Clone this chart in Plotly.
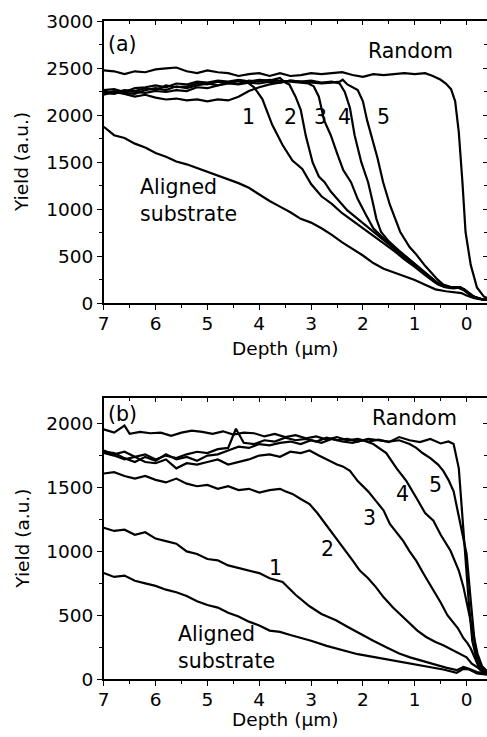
import plotly.graph_objects as go

# ---------------- Panel (a) data ----------------
a_random_d = [7.0, 6.8, 6.6, 6.4, 6.2, 6.0, 5.8, 5.6, 5.4, 5.2, 5.0, 4.8, 4.6, 4.4, 4.2, 4.0, 3.8, 3.6, 3.4, 3.2, 3.0,
              2.8, 2.6, 2.4, 2.2, 2.0, 1.8, 1.6, 1.4, 1.2, 1.0, 0.8, 0.65, 0.5, 0.4, 0.3, 0.22, 0.15, 0.08, 0.02,
              -0.08, -0.2, -0.33, -0.47]
a_random_y = [2480, 2470, 2440, 2470, 2460, 2490, 2500, 2510, 2470, 2450, 2480, 2460, 2450, 2420, 2440, 2450, 2420,
              2450, 2420, 2430, 2450, 2440, 2450, 2460, 2430, 2410, 2440, 2430, 2440, 2450, 2440, 2450, 2420, 2380,
              2340, 2280, 2150, 1820, 1290, 760, 410, 170, 75, 40]

a_c1_d = [7.0, 6.8, 6.6, 6.4, 6.2, 6.0, 5.8, 5.6, 5.4, 5.2, 5.0, 4.8, 4.6, 4.4, 4.27, 4.1, 3.94, 3.75, 3.55, 3.36,
          3.17, 3.0, 2.8, 2.6, 2.4, 2.2, 2.0, 1.8, 1.6, 1.4, 1.2, 1.0, 0.8, 0.6, 0.45, 0.3, 0.15, 0.05, -0.05,
          -0.15, -0.3, -0.47]
a_c1_y = [2270, 2280, 2250, 2290, 2300, 2320, 2300, 2340, 2330, 2360, 2350, 2370, 2360, 2380, 2370, 2300, 2175,
          1900, 1685, 1520, 1430, 1270, 1140, 1060, 960, 880, 800, 720, 640, 560, 470, 390, 300, 220, 180, 170,
          165, 140, 100, 70, 45, 35]

a_c2_d = [7.0, 6.8, 6.6, 6.4, 6.2, 6.0, 5.8, 5.6, 5.4, 5.2, 5.0, 4.8, 4.6, 4.4, 4.2, 4.0, 3.8, 3.6, 3.5, 3.42, 3.3,
          3.2, 3.1, 2.97, 2.85, 2.74, 2.62, 2.45, 2.3, 2.1, 1.9, 1.7, 1.5, 1.3, 1.1, 0.9, 0.7, 0.55, 0.4, 0.25,
          0.12, 0.0, -0.1, -0.25, -0.47]
a_c2_y = [2250, 2240, 2270, 2260, 2290, 2270, 2320, 2300, 2310, 2340, 2330, 2360, 2350, 2370, 2360, 2380, 2370,
          2400, 2350, 2330, 2200, 2060, 1780, 1500, 1350, 1290, 1190, 1080, 990, 900, 810, 720, 630, 540, 450,
          360, 270, 200, 170, 160, 170, 120, 80, 50, 35]

a_c3_d = [7.0, 6.8, 6.6, 6.4, 6.2, 6.0, 5.8, 5.6, 5.4, 5.2, 5.0, 4.8, 4.6, 4.4, 4.2, 4.0, 3.8, 3.6, 3.4, 3.2, 3.05,
          2.95, 2.85, 2.75, 2.62, 2.5, 2.38, 2.23, 2.1, 1.94, 1.8, 1.6, 1.4, 1.2, 1.0, 0.8, 0.6, 0.45, 0.3, 0.15,
          0.05, -0.05, -0.15, -0.3, -0.47]
a_c3_y = [2230, 2260, 2240, 2230, 2270, 2290, 2270, 2310, 2290, 2320, 2340, 2320, 2350, 2340, 2370, 2360, 2380,
          2370, 2360, 2350, 2340, 2310, 2200, 1950, 1790, 1600, 1420, 1290, 1110, 940, 800, 690, 600, 500, 420,
          330, 235, 190, 165, 170, 150, 100, 65, 45, 35]

a_c4_d = [7.0, 6.8, 6.6, 6.4, 6.2, 6.0, 5.8, 5.6, 5.4, 5.2, 5.0, 4.8, 4.6, 4.4, 4.2, 4.0, 3.8, 3.6, 3.4, 3.2, 3.0,
          2.8, 2.6, 2.45, 2.35, 2.25, 2.16, 2.03, 1.9, 1.82, 1.74, 1.65, 1.5, 1.3, 1.1, 0.9, 0.7, 0.55, 0.4, 0.25,
          0.12, 0.0, -0.1, -0.2, -0.32, -0.47]
a_c4_y = [2220, 2250, 2230, 2200, 2220, 2190, 2170, 2180, 2160, 2170, 2150, 2170, 2160, 2200, 2260, 2300, 2330,
          2350, 2370, 2360, 2370, 2350, 2360, 2340, 2250, 2080, 1790, 1500, 1290, 1100, 900, 760, 660, 560, 470,
          380, 290, 215, 180, 170, 175, 130, 85, 60, 42, 35]

a_c5_d = [7.0, 6.8, 6.6, 6.4, 6.2, 6.0, 5.8, 5.6, 5.4, 5.2, 5.0, 4.8, 4.6, 4.4, 4.2, 4.0, 3.8, 3.6, 3.4, 3.2, 3.0,
          2.8, 2.6, 2.45, 2.39, 2.3, 2.1, 2.0, 1.92, 1.84, 1.72, 1.61, 1.48, 1.28, 1.1, 0.97, 0.8, 0.58, 0.45,
          0.3, 0.15, 0.05, -0.05, -0.15, -0.3, -0.47]
a_c5_y = [2240, 2230, 2260, 2250, 2240, 2260, 2250, 2270, 2260, 2300, 2290, 2320, 2340, 2330, 2350, 2340, 2360,
          2350, 2370, 2360, 2350, 2340, 2350, 2360, 2380, 2330, 2270, 2150, 1950, 1790, 1550, 1290, 1050, 760,
          600, 520, 400, 265, 200, 175, 175, 155, 110, 70, 45, 35]

a_aligned_d = [7.0, 6.8, 6.6, 6.4, 6.2, 6.0, 5.8, 5.6, 5.4, 5.2, 5.0, 4.8, 4.6, 4.4, 4.2, 4.0, 3.8, 3.6, 3.4, 3.2,
               3.0, 2.8, 2.6, 2.4, 2.2, 2.0, 1.8, 1.6, 1.4, 1.2, 1.0, 0.8, 0.6, 0.4, 0.2, 0.1, 0.0, -0.15, -0.3,
               -0.47]
a_aligned_y = [1880, 1790, 1760, 1700, 1660, 1600, 1560, 1510, 1480, 1440, 1400, 1360, 1320, 1280, 1230, 1160,
               1090, 1030, 970, 900, 860, 800, 730, 650, 580, 510, 430, 370, 330, 290, 250, 200, 150, 130, 115,
               110, 85, 55, 40, 35]

# ---------------- Panel (b) data ----------------
b_random_d = [7.0, 6.8, 6.6, 6.5, 6.3, 6.1, 5.9, 5.7, 5.5, 5.3, 5.1, 4.9, 4.7, 4.5, 4.3, 4.1, 3.9, 3.7, 3.5, 3.3,
              3.1, 2.9, 2.7, 2.5, 2.3, 2.1, 1.9, 1.7, 1.5, 1.3, 1.1, 0.9, 0.7, 0.5, 0.35, 0.25, 0.15, 0.06, -0.04,
              -0.11, -0.21, -0.3, -0.47]
b_random_y = [1955, 1930, 1985, 1920, 1935, 1925, 1930, 1905, 1930, 1945, 1935, 1920, 1940, 1915, 1930, 1925, 1900,
              1920, 1895, 1910, 1885, 1900, 1875, 1895, 1870, 1880, 1860, 1875, 1855, 1895, 1870, 1855, 1880, 1845,
              1860, 1840, 1650, 1135, 615, 300, 125, 70, 45]

b_c1_d = [7.0, 6.8, 6.6, 6.4, 6.2, 6.0, 5.8, 5.6, 5.4, 5.2, 5.0, 4.8, 4.6, 4.4, 4.2, 4.0, 3.8, 3.55, 3.3, 3.03, 2.8,
          2.52, 2.3, 2.06, 1.8, 1.55, 1.3, 1.09, 0.8, 0.58, 0.4, 0.19, 0.06, -0.05, -0.2, -0.47]
b_c1_y = [1185, 1160, 1170, 1130, 1150, 1100, 1080, 1060, 1000, 980, 940, 930, 890, 870, 850, 830, 790, 760, 660,
          570, 510, 460, 410, 355, 300, 250, 200, 170, 135, 110, 90, 70, 95, 80, 55, 40]

b_c2_d = [7.0, 6.8, 6.6, 6.4, 6.2, 6.0, 5.8, 5.6, 5.4, 5.2, 5.0, 4.8, 4.6, 4.4, 4.2, 4.0, 3.8, 3.6, 3.5, 3.36, 3.2,
          3.03, 2.88, 2.72, 2.55, 2.39, 2.2, 2.06, 1.9, 1.75, 1.6, 1.42, 1.25, 1.09, 0.95, 0.78, 0.6, 0.45, 0.3,
          0.12, 0.0, -0.1, -0.2, -0.3, -0.47]
b_c2_y = [1610, 1620, 1590, 1570, 1590, 1560, 1540, 1570, 1530, 1510, 1520, 1490, 1510, 1480, 1490, 1460, 1480,
          1490, 1470, 1450, 1410, 1370, 1300, 1215, 1120, 1030, 930, 850, 790, 720, 640, 560, 495, 435, 380, 330,
          290, 265, 235, 200, 170, 120, 95, 60, 40]

b_c3_d = [7.0, 6.8, 6.6, 6.4, 6.2, 6.0, 5.8, 5.6, 5.4, 5.2, 5.0, 4.8, 4.6, 4.4, 4.2, 4.0, 3.8, 3.6, 3.4, 3.2, 3.03,
          2.85, 2.64, 2.5, 2.39, 2.25, 2.1, 1.9, 1.75, 1.6, 1.48, 1.35, 1.22, 1.1, 0.97, 0.83, 0.7, 0.5, 0.37,
          0.17, 0.06, -0.02, -0.08, -0.15, -0.22, -0.3, -0.47]
b_c3_y = [1770, 1750, 1720, 1740, 1700, 1690, 1720, 1650, 1690, 1680, 1700, 1720, 1680, 1700, 1720, 1750, 1760,
          1740, 1780, 1770, 1790, 1750, 1705, 1680, 1665, 1630, 1550, 1470, 1395, 1320, 1215, 1150, 1080, 1000,
          925, 825, 740, 600, 500, 400, 320, 280, 240, 170, 110, 70, 45]

b_c4_d = [7.0, 6.8, 6.6, 6.4, 6.2, 6.0, 5.8, 5.6, 5.4, 5.2, 5.0, 4.8, 4.6, 4.4, 4.2, 4.0, 3.8, 3.6, 3.4, 3.2, 3.0,
          2.8, 2.6, 2.4, 2.2, 2.0, 1.8, 1.65, 1.55, 1.35, 1.16, 0.97, 0.8, 0.64, 0.5, 0.31, 0.15, 0.06, -0.02,
          -0.08, -0.15, -0.21, -0.3, -0.4, -0.47]
b_c4_y = [1780, 1770, 1730, 1700, 1740, 1710, 1760, 1720, 1740, 1710, 1750, 1760, 1790, 1820, 1810, 1840, 1830,
          1850, 1860, 1840, 1870, 1850, 1880, 1860, 1850, 1870, 1840, 1800, 1770, 1650, 1550, 1420, 1300, 1240,
          1130, 1005, 850, 720, 560, 450, 300, 200, 100, 60, 45]

b_c5_d = [7.0, 6.8, 6.6, 6.4, 6.2, 6.0, 5.8, 5.6, 5.4, 5.2, 5.0, 4.8, 4.6, 4.45, 4.3, 4.1, 3.9, 3.7, 3.5, 3.3, 3.1,
          2.9, 2.7, 2.5, 2.3, 2.1, 1.9, 1.7, 1.5, 1.3, 1.1, 0.97, 0.85, 0.7, 0.55, 0.45, 0.35, 0.25, 0.12, 0.0,
          -0.08, -0.17, -0.27, -0.35, -0.47]
b_c5_y = [1790, 1760, 1780, 1740, 1760, 1720, 1750, 1730, 1760, 1780, 1770, 1800, 1810, 1960, 1850, 1840, 1870,
          1860, 1890, 1870, 1880, 1860, 1890, 1870, 1880, 1860, 1880, 1870, 1860, 1870, 1840, 1810, 1770, 1730,
          1680, 1630, 1560, 1470, 1215, 980, 615, 225, 100, 60, 45]

b_aligned_d = [7.0, 6.8, 6.6, 6.4, 6.2, 6.0, 5.8, 5.6, 5.4, 5.2, 5.0, 4.8, 4.6, 4.4, 4.2, 4.0, 3.8, 3.6, 3.4, 3.17,
               3.0, 2.7, 2.39, 2.1, 1.75, 1.4, 1.09, 0.8, 0.45, 0.19, 0.06, -0.05, -0.2, -0.47]
b_aligned_y = [830, 800, 810, 770, 750, 730, 700, 680, 650, 610, 580, 560, 520, 490, 450, 420, 380, 370, 345, 320,
               300, 260, 225, 195, 170, 145, 125, 100, 75, 50, 80, 75, 45, 30]

depth_ticks = [0, 1, 2, 3, 4, 5, 6, 7]
a_yticks = [0, 500, 1000, 1500, 2000, 2500, 3000]
b_yticks = [0, 500, 1000, 1500, 2000]

# ---------------- Figure ----------------
W, H = 487, 737
FONT = "DejaVu Sans"
# observed mapping of figure pixels into the photograph: photo = S * fig + O
SX, OX = 0.98, 6.0
SY, OY = 0.975, 8.5

def fx(p):  # target photo column -> figure pixel
    return (p - OX) / SX

def fy(p):  # target photo row -> figure pixel
    return (p - OY) / SY

LEFT = fx(103)
ZERO = fx(463)
PX_PER_UNIT = (ZERO - LEFT) / 7.0
X_RANGE = [7, 7 - (W - LEFT) / PX_PER_UNIT]
LW = 2.2

fig = go.Figure()

panel_a = [(a_random_d, a_random_y), (a_c1_d, a_c1_y), (a_c2_d, a_c2_y), (a_c3_d, a_c3_y),
           (a_c4_d, a_c4_y), (a_c5_d, a_c5_y), (a_aligned_d, a_aligned_y)]
panel_b = [(b_random_d, b_random_y), (b_c1_d, b_c1_y), (b_c2_d, b_c2_y), (b_c3_d, b_c3_y),
           (b_c4_d, b_c4_y), (b_c5_d, b_c5_y), (b_aligned_d, b_aligned_y)]

for d, y in panel_a:
    fig.add_trace(go.Scatter(x=d, y=y, mode="lines", line=dict(color="black", width=LW),
                             xaxis="x", yaxis="y", showlegend=False, hoverinfo="skip"))
for d, y in panel_b:
    fig.add_trace(go.Scatter(x=d, y=y, mode="lines", line=dict(color="black", width=LW),
                             xaxis="x3", yaxis="y3", showlegend=False, hoverinfo="skip"))
fig.add_trace(go.Scatter(x=[None], y=[None], xaxis="x2", yaxis="y2", showlegend=False, hoverinfo="skip"))
fig.add_trace(go.Scatter(x=[None], y=[None], xaxis="x4", yaxis="y4", showlegend=False, hoverinfo="skip"))

def ppx(p):
    return fx(p) / W

def ppy(p):
    return 1 - fy(p) / H

xdom = [LEFT / W, 1.0]
ydom_a = [ppy(302), ppy(19)]
ydom_b = [ppy(679), ppy(397)]

tickfont = dict(family=FONT, size=18.5, color="black")

def main_x(anchor):
    return dict(domain=xdom, anchor=anchor, range=X_RANGE, tickmode="array", tickvals=depth_ticks,
                ticks="outside", ticklen=5, tickwidth=1.2, tickcolor="black", ticklabelstandoff=-2,
                minor=dict(ticks="outside", dtick=0.5, ticklen=3, tickwidth=1.2, tickcolor="black"),
                showline=True, linecolor="black", linewidth=1.5, mirror=True,
                showgrid=False, zeroline=False, tickfont=tickfont, fixedrange=True)

def top_x(over, anchor):
    return dict(overlaying=over, anchor=anchor, side="top", range=X_RANGE, tickmode="array",
                tickvals=depth_ticks, ticks="inside", ticklen=4, tickwidth=1.2, tickcolor="black",
                minor=dict(ticks="inside", dtick=0.5, ticklen=3, tickwidth=1.2, tickcolor="black"),
                showticklabels=False, showline=False, showgrid=False, zeroline=False)

def main_y(dom, anchor, rng, vals):
    return dict(domain=dom, anchor=anchor, range=rng, tickmode="array", tickvals=vals,
                ticks="outside", ticklen=5, tickwidth=1.2, tickcolor="black",
                minor=dict(ticks="outside", dtick=250, ticklen=3, tickwidth=1.2, tickcolor="black"),
                showline=True, linecolor="black", linewidth=1.5, mirror=False,
                showgrid=False, zeroline=False, tickfont=tickfont, fixedrange=True)

def right_y(over, anchor, rng, vals):
    return dict(overlaying=over, anchor=anchor, side="right", range=rng, tickmode="array",
                tickvals=vals, ticks="inside", ticklen=4, tickwidth=1.2, tickcolor="black",
                minor=dict(ticks="inside", dtick=250, ticklen=3, tickwidth=1.2, tickcolor="black"),
                showticklabels=False, showline=False, showgrid=False, zeroline=False)

fig.update_layout(
    width=W, height=H,
    margin=dict(l=0, r=0, t=0, b=0),
    paper_bgcolor="white", plot_bgcolor="white",
    xaxis=main_x("y"),
    xaxis2=top_x("x", "y"),
    yaxis=main_y(ydom_a, "x", [0, 3000], a_yticks),
    yaxis2=right_y("y", "x", [0, 3000], a_yticks),
    xaxis3=main_x("y3"),
    xaxis4=top_x("x3", "y3"),
    yaxis3=main_y(ydom_b, "x3", [0, 2200], b_yticks),
    yaxis4=right_y("y3", "x3", [0, 2200], b_yticks),
    font=dict(family=FONT, color="black"),
)

lab = dict(family=FONT, size=20.5, color="black")
annots = [
    dict(x=6.63, y=2756, xref="x", yref="y", text="(a)"),
    dict(x=1.08, y=2682, xref="x", yref="y", text="Random"),
    dict(x=4.2, y=1982, xref="x", yref="y", text="1"),
    dict(x=3.40, y=1982, xref="x", yref="y", text="2"),
    dict(x=2.82, y=1982, xref="x", yref="y", text="3"),
    dict(x=2.35, y=1982, xref="x", yref="y", text="4"),
    dict(x=1.61, y=1982, xref="x", yref="y", text="5"),
    dict(x=6.34, y=1092, xref="x", yref="y", text="Aligned<br>substrate", xanchor="left", align="left"),
    dict(x=6.63, y=2075, xref="x3", yref="y3", text="(b)"),
    dict(x=1.0, y=2044, xref="x3", yref="y3", text="Random"),
    dict(x=0.60, y=1521, xref="x3", yref="y3", text="5"),
    dict(x=1.24, y=1451, xref="x3", yref="y3", text="4"),
    dict(x=1.87, y=1264, xref="x3", yref="y3", text="3"),
    dict(x=2.68, y=1022, xref="x3", yref="y3", text="2"),
    dict(x=3.69, y=866, xref="x3", yref="y3", text="1"),
    dict(x=5.60, y=250, xref="x3", yref="y3", text="Aligned<br>substrate", xanchor="left", align="left"),
]
for a in annots:
    a.setdefault("xanchor", "center")
    a.update(yanchor="middle", showarrow=False, font=lab)
    fig.add_annotation(**a)

title_font = dict(family=FONT, size=18.5, color="black")
for (tx, ty, text, ang) in [
    (22, 160, "Yield (a.u.)", -90),
    (283, 347, "Depth (\u03bcm)", 0),
    (22, 538, "Yield (a.u.)", -90),
    (283, 720, "Depth (\u03bcm)", 0),
]:
    fig.add_annotation(x=ppx(tx), y=ppy(ty), xref="paper", yref="paper", text=text, textangle=ang,
                       showarrow=False, xanchor="center", yanchor="middle", font=title_font, borderpad=0)

fig.write_html("out.html", config={"displayModeBar": False})
